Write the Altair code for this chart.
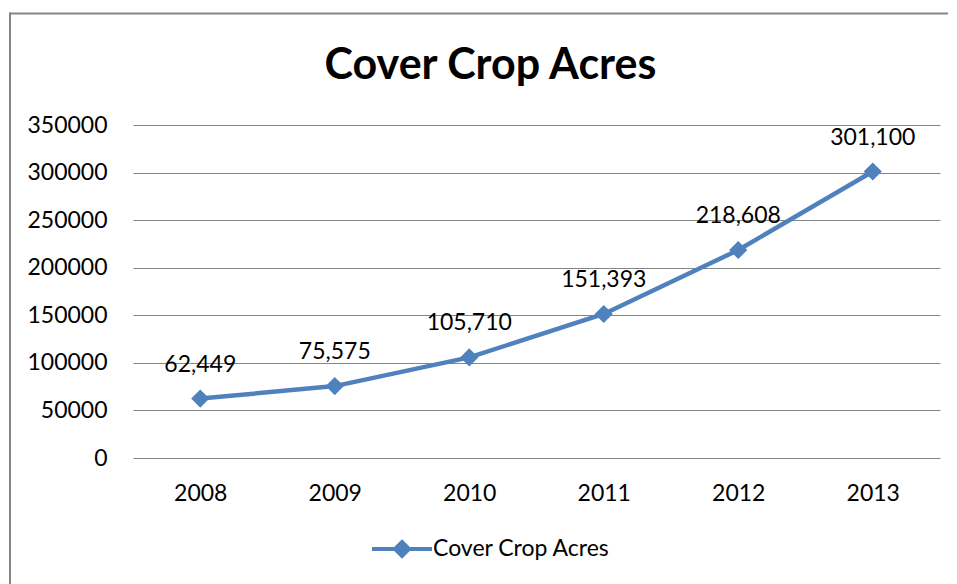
import altair as alt
import pandas as pd

years = ["2008", "2009", "2010", "2011", "2012", "2013"]
acres = [62449, 75575, 105710, 151393, 218608, 301100]
labels = ["62,449", "75,575", "105,710", "151,393", "218,608", "301,100"]
y_ticks = [0, 50000, 100000, 150000, 200000, 250000, 300000, 350000]
series_name = "Cover Crop Acres"
title_text = "Cover Crop Acres"

df = pd.DataFrame({"year": years, "acres": acres, "label": labels,
                   "series": [series_name] * len(years)})

BLUE = "#4F81BD"
GRID = "#868686"
FONT = "Lato"
FS = 23

x = alt.X("year:O", scale=alt.Scale(type="point", padding=0.5),
          axis=alt.Axis(title=None, labelAngle=0, domain=False, ticks=False, grid=False,
                        labelFontSize=FS, labelFont=FONT, labelColor="black", labelPadding=24))
y = alt.Y("acres:Q", scale=alt.Scale(domain=[0, 350000]),
          axis=alt.Axis(title=None, values=y_ticks, format="d", domain=False, ticks=False,
                        grid=True, gridColor=GRID, gridWidth=1.2, gridOpacity=1,
                        labelFontSize=FS, labelFont=FONT, labelColor="black", labelPadding=26))

base = alt.Chart(df)

line = base.mark_line(color=BLUE, strokeWidth=4.5).encode(x=x, y=y)

legend_path = "M-3,0H3M0,-0.7L0.7,0L0,0.7L-0.7,0Z"
points = base.mark_point(shape="diamond", filled=True, size=330, opacity=1).encode(
    x=x, y=y,
    color=alt.Color("series:N", scale=alt.Scale(range=[BLUE]),
                    legend=alt.Legend(title=None, orient="none", legendX=257, legendY=412,
                                      symbolType=legend_path, symbolSize=400,
                                      symbolStrokeColor=BLUE, symbolStrokeWidth=4,
                                      symbolFillColor=BLUE,
                                      labelFontSize=FS, labelFont=FONT, labelColor="black",
                                      labelOffset=19, labelLimit=500)))

text = base.mark_text(dy=-27, baseline="alphabetic", fontSize=FS, font=FONT, color="black").encode(
    x=x, y=y, text="label:N")

frame_data = alt.Data(values=[{}])
border_top = alt.Chart(frame_data).mark_rule(stroke=GRID, strokeWidth=2).encode(
    x=alt.value(-124), x2=alt.value(815), y=alt.value(-111.5))
border_left = alt.Chart(frame_data).mark_rule(stroke=GRID, strokeWidth=2).encode(
    x=alt.value(-123), y=alt.value(-112.5), y2=alt.value(460))

chart = alt.layer(border_top, border_left, line, points, text).properties(
    width=807, height=333,
    autosize=alt.AutoSizeParams(type="none"),
    padding={"left": 125, "top": 117, "right": 9, "bottom": 126},
    title=alt.TitleParams(title_text, fontSize=43, fontWeight="bold", font=FONT, color="black",
                          anchor="middle", dx=-46, offset=-110, baseline="alphabetic"),
).configure_view(stroke=None)

chart.save("out.html", embed_options={"renderer": "svg", "actions": False})
